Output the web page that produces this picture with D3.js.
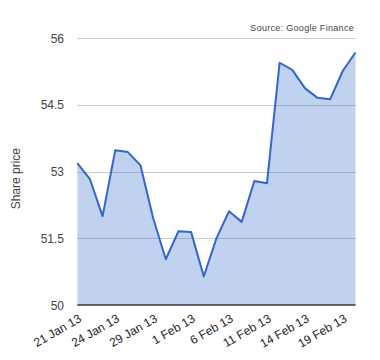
<!DOCTYPE html>
<html>
<head>
<meta charset="utf-8">
<script src="https://cdn.jsdelivr.net/npm/d3@7"></script>
<style>
  html, body { margin: 0; padding: 0; background: #fff; }
  svg { display: block; font-family: Arial, "Liberation Sans", sans-serif; }
</style>
</head>
<body>
<svg id="chart" width="380" height="360"></svg>
<script>
// Trading days (categories)
const dates = [
  "21 Jan 13","22 Jan 13","23 Jan 13","24 Jan 13","25 Jan 13","28 Jan 13",
  "29 Jan 13","30 Jan 13","31 Jan 13","1 Feb 13","4 Feb 13","5 Feb 13",
  "6 Feb 13","7 Feb 13","8 Feb 13","11 Feb 13","12 Feb 13","13 Feb 13",
  "14 Feb 13","15 Feb 13","18 Feb 13","19 Feb 13","20 Feb 13"
];
// Share price values
const prices = [
  53.19, 52.83, 52.00, 53.48, 53.44, 53.14,
  51.95, 51.03, 51.66, 51.64, 50.64, 51.50,
  52.11, 51.87, 52.79, 52.74, 55.45, 55.29,
  54.88, 54.66, 54.63, 55.27, 55.68
];
// Axis tick labels
const xTickLabels = ["21 Jan 13","24 Jan 13","29 Jan 13","1 Feb 13","6 Feb 13","11 Feb 13","14 Feb 13","19 Feb 13"];
const yTicks = [50, 51.5, 53, 54.5, 56];
const yTitle = "Share price";
const sourceText = "Source: Google Finance";

const svg = d3.select("#chart");
const plotLeft = 77.3, plotRight = 355.5, plotTop = 38.3, plotBottom = 305;

const x = d3.scalePoint().domain(dates).range([plotLeft, plotRight]);
const y = d3.scaleLinear().domain([50, 56]).range([plotBottom, plotTop]);

// gridlines
svg.append("g").selectAll("line").data(yTicks.filter(d => d !== 50)).join("line")
  .attr("x1", plotLeft).attr("x2", plotRight)
  .attr("y1", d => Math.round(y(d)) + 0.5).attr("y2", d => Math.round(y(d)) + 0.5)
  .attr("stroke", "#cccccc").attr("stroke-width", 1);

const data = dates.map((d, i) => ({ d, v: prices[i] }));

// area fill (semi-transparent over gridlines)
const area = d3.area().x(p => x(p.d)).y0(y(50)).y1(p => y(p.v));
svg.append("path").datum(data).attr("d", area)
  .attr("fill", "#3366cc").attr("fill-opacity", 0.3);

// line
const line = d3.line().x(p => x(p.d)).y(p => y(p.v));
svg.append("path").datum(data).attr("d", line)
  .attr("fill", "none").attr("stroke", "#3366cc").attr("stroke-width", 2)
  .attr("stroke-linejoin", "round");

// baseline
svg.append("line").attr("x1", plotLeft).attr("x2", plotRight)
  .attr("y1", y(50)).attr("y2", y(50))
  .attr("stroke", "#333333").attr("stroke-width", 1.5);

// y tick labels
svg.append("g").selectAll("text").data(yTicks).join("text")
  .attr("x", 64).attr("y", d => y(d) + 4.5)
  .attr("text-anchor", "end").attr("font-size", 12).attr("fill", "#444444")
  .text(d => d);

// x tick labels (rotated)
svg.append("g").selectAll("text").data(xTickLabels).join("text")
  .attr("text-anchor", "end").attr("font-size", 12).attr("fill", "#222222")
  .attr("transform", d => `translate(${x(d) + 5},${plotBottom + 16}) rotate(-30)`)
  .text(d => d);

// y axis title
svg.append("text")
  .attr("transform", `translate(20,${(plotTop + plotBottom) / 2 + 7}) rotate(-90)`)
  .attr("text-anchor", "middle").attr("font-size", 12).attr("fill", "#444444")
  .text(yTitle);

// source note
svg.append("text").attr("x", 354).attr("y", 31)
  .attr("text-anchor", "end").attr("font-size", 9).attr("fill", "#444444")
  .attr("letter-spacing", 0.3)
  .text(sourceText);
</script>
</body>
</html>
